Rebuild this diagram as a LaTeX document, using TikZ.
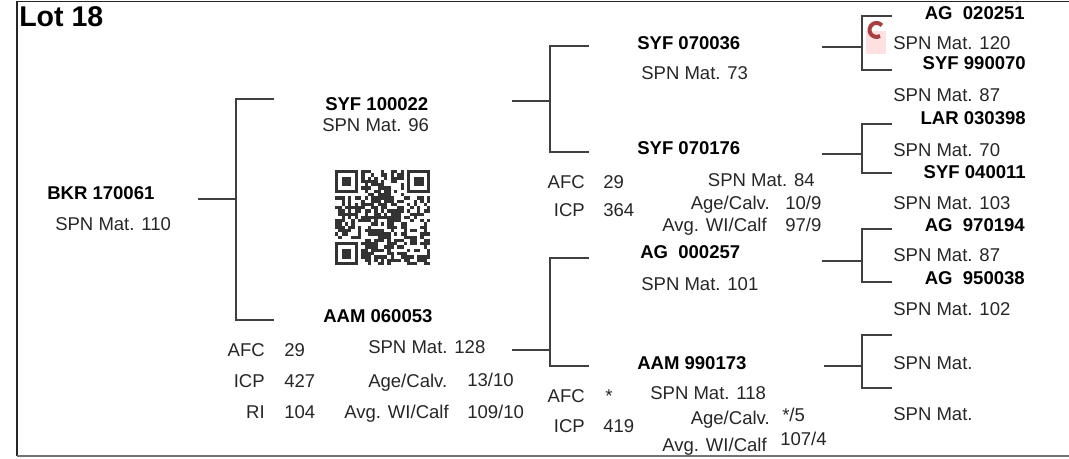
\documentclass[tikz,border=0pt]{standalone}
\usepackage{fontspec}
\setmainfont{Liberation Sans}
\begin{document}
\begin{tikzpicture}[x=0.75pt,y=-0.75pt,
  reg/.style={inner sep=0pt, font=\fontsize{13.9}{16}\selectfont, text=black!85},
  bld/.style={inner sep=0pt, font=\bfseries\fontsize{13.9}{16}\selectfont, text=black},
  lw/.style={anchor=base west},
  le/.style={anchor=base east},
  conn/.style={line width=0.9pt, draw=black!75},
  qr/.style={fill=black!80}]
\useasboundingbox (0,0) rectangle (1069,459);
% frame
\draw[line width=1.4pt, black!85] (1069,1.5) -- (17,1.5) -- (17,456);
\draw[line width=1.8pt, black!55] (17,456) -- (1069,456);
% title
\node[inner sep=0pt, anchor=base west, font=\bfseries\fontsize{21.4}{24}\selectfont] (lot) at (19,27) {Lot 18};
% generation 0
\node[bld,lw] (bkr) at (47,200) {BKR 170061};
\node[reg,lw] (bkrs) at (55,231) {SPN Mat. 110};
% generation 1
\node[bld,lw] (syf1) at (325,111) {SYF 100022};
\node[reg,lw] (syf1s) at (322,132) {SPN Mat. 96};
\node[bld,lw] (aam1) at (323,322) {AAM 060053};
\node[reg,lw] (aam1s) at (368,353) {SPN Mat. 128};
\node[reg,le] (aafc) at (265,356) {AFC};
\node[reg,lw] (aafcv) at (284,356) {29};
\node[reg,le] (aicp) at (265,387) {ICP};
\node[reg,lw] (aicpv) at (284,387) {427};
\node[reg,le] (ari) at (265,418) {RI};
\node[reg,lw] (ariv) at (284,418) {104};
\node[reg,lw] (aage) at (368,387) {Age/Calv.};
\node[reg,lw] (aagev) at (467,386) {13/10};
\node[reg,le] (aavg) at (449,418) {Avg. WI/Calf};
\node[reg,lw] (aavgv) at (467,418) {109/10};
% generation 2
\node[bld,lw] (g2a) at (637,50) {SYF 070036};
\node[reg,lw] (g2as) at (641,80) {SPN Mat. 73};
\node[bld,lw] (g2b) at (637,155) {SYF 070176};
\node[reg,le] (bafc) at (585,189) {AFC};
\node[reg,lw] (bafcv) at (603,189) {29};
\node[reg,le] (bicp) at (585,217) {ICP};
\node[reg,lw] (bicpv) at (603,217) {364};
\node[reg,le] (g2bs) at (815,187) {SPN Mat. 84};
\node[reg,le] (bage) at (770,210) {Age/Calv.};
\node[reg,lw] (bagev) at (785,210) {10/9};
\node[reg,le] (bavg) at (767,232) {Avg. WI/Calf};
\node[reg,lw] (bavgv) at (785,232) {97/9};
\node[bld,lw] (g2c) at (640,259) {AG\ \ 000257};
\node[reg,lw] (g2cs) at (641,291) {SPN Mat. 101};
\node[bld,lw] (g2d) at (637,369) {AAM 990173};
\node[reg,le] (dafc) at (585,402) {AFC};
\node[reg,lw] (dafcv) at (605,402) {*};
\node[reg,le] (dicp) at (585,432) {ICP};
\node[reg,lw] (dicpv) at (603,432) {419};
\node[reg,lw] (g2ds) at (650,399) {SPN Mat. 118};
\node[reg,le] (dage) at (770,424) {Age/Calv.};
\node[reg,lw] (dagev) at (782,421) {*/5};
\node[reg,le] (davg) at (767,451) {Avg. WI/Calf};
\node[reg,lw] (davgv) at (780,445) {107/4};
% generation 3
\node[bld,le] (g3a) at (1025,20) {AG\ \ 020251};
\node[reg,lw] (g3as) at (893,50) {SPN Mat. 120};
\node[bld,le] (g3b) at (1026,70) {SYF 990070};
\node[reg,lw] (g3bs) at (893,102) {SPN Mat. 87};
\node[bld,le] (g3c) at (1026,125) {LAR 030398};
\node[reg,lw] (g3cs) at (893,157) {SPN Mat. 70};
\node[bld,le] (g3d) at (1026,179) {SYF 040011};
\node[reg,lw] (g3ds) at (893,210) {SPN Mat. 103};
\node[bld,le] (g3e) at (1025,232) {AG\ \ 970194};
\node[reg,lw] (g3es) at (893,262) {SPN Mat. 87};
\node[bld,le] (g3f) at (1025,284) {AG\ \ 950038};
\node[reg,lw] (g3fs) at (893,315) {SPN Mat. 102};
\node[reg,lw] (g3gs) at (893,369) {SPN Mat.};
\node[reg,lw] (g3hs) at (893,420) {SPN Mat.};
% brackets
\foreach \n/\sx/\sy/\vx/\ty/\by/\ex in {1/198/199/236/99/320/274, 2/512/101/550/46/152/589, 3/512/350/550/258/366/589, 4/822/47/862/16/70/892, 5/822/154/862/124/173/892, 6/822/261/862/229/282/892, 7/824/366/862/335/388/892}{
  \coordinate (s\n) at (\sx,\sy);
  \coordinate (j\n) at (\vx,\sy);
  \coordinate (t\n) at (\ex,\ty);
  \coordinate (b\n) at (\ex,\by);
  \draw[conn] (s\n) -- (j\n);
  \draw[conn] (t\n) -| (j\n) |- (b\n);
}
% QR code (29 x 29 modules)
\pgfmathsetseed{2718}
\def\qs{3.28}
\foreach \i in {0,...,28}{
  \foreach \j in {0,...,28}{
    \pgfmathtruncatemacro{\inf}{or(and(\i<8,\j<8), or(and(\i>20,\j<8), and(\i<8,\j>20)))}
    \pgfmathtruncatemacro{\r}{rnd<0.55}
    \ifnum\inf=0 \ifnum\r=1
      \fill[qr] (335+\qs*\i,170+\qs*\j) rectangle ++(\qs,\qs);
    \fi\fi
  }
}
\foreach \fx/\fy in {0/0,22/0,0/22}{
  \fill[qr] (335+\qs*\fx,170+\qs*\fy) rectangle ++(7*\qs,7*\qs);
  \fill[white] (335+\qs*\fx+\qs,170+\qs*\fy+\qs) rectangle ++(5*\qs,5*\qs);
  \fill[qr] (335+\qs*\fx+2*\qs,170+\qs*\fy+2*\qs) rectangle ++(3*\qs,3*\qs);
}
% small logo
\fill[red!12] (866,31) rectangle (886,54);
\draw[line width=3pt, red!55!black!75] (880,36) arc[start angle=60, end angle=320, radius=7];
\end{tikzpicture}
\end{document}
